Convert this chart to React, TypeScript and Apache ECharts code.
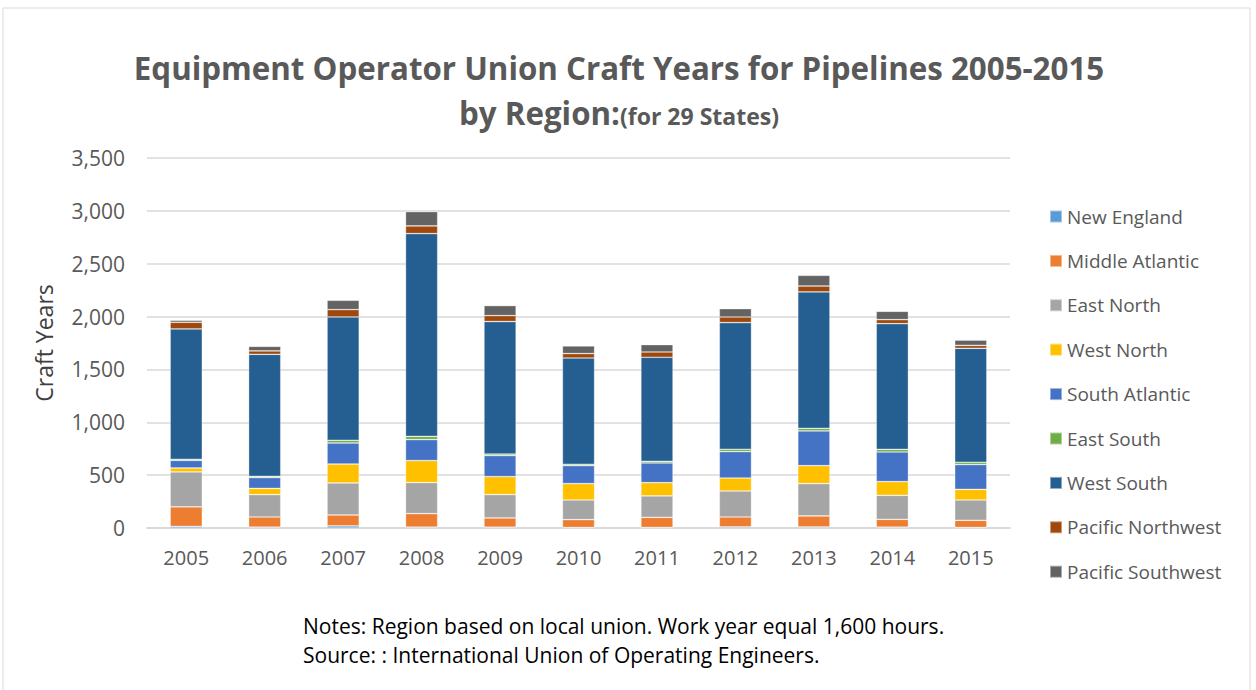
import React, { useEffect, useRef } from "react";
import * as echarts from "echarts";

const years = ["2005", "2006", "2007", "2008", "2009", "2010", "2011", "2012", "2013", "2014", "2015"];
const newEngland = [15, 8, 20, 8, 8, 5, 5, 10, 10, 8, 5];
const middleAtlantic = [185, 96, 103, 128, 87, 74, 96, 94, 104, 74, 68];
const eastNorth = [330, 212, 303, 294, 221, 186, 202, 246, 306, 227, 192];
const westNorth = [38, 59, 179, 208, 170, 155, 126, 123, 170, 130, 101];
const southAtlantic = [72, 102, 199, 198, 199, 170, 186, 250, 328, 280, 234];
const eastSouth = [10, 12, 26, 31, 15, 13, 16, 22, 25, 25, 22];
const westSouth = [1233, 1154, 1166, 1918, 1253, 1005, 984, 1198, 1290, 1189, 1078];
const pacificNorthwest = [63, 32, 70, 72, 56, 42, 50, 53, 56, 38, 28];
const pacificSouthwest = [19, 44, 88, 136, 95, 72, 70, 79, 101, 79, 50];

const seriesNames = [
  "New England",
  "Middle Atlantic",
  "East North",
  "West North",
  "South Atlantic",
  "East South",
  "West South",
  "Pacific Northwest",
  "Pacific Southwest",
];
const seriesData = [
  newEngland,
  middleAtlantic,
  eastNorth,
  westNorth,
  southAtlantic,
  eastSouth,
  westSouth,
  pacificNorthwest,
  pacificSouthwest,
];
const colors = ["#5B9BD5", "#ED7D31", "#A5A5A5", "#FFC000", "#4472C4", "#70AD47", "#255E91", "#9E480E", "#636363"];

const FONT = "'Open Sans', 'Noto Sans', sans-serif";

export default function App() {
  const ref = useRef<HTMLDivElement>(null);
  useEffect(() => {
    if (!ref.current) return;
    const chart = echarts.init(ref.current, null, { renderer: "svg" });
    chart.setOption({
      animation: false,
      backgroundColor: "#ffffff",
      color: colors,
      textStyle: { fontFamily: FONT },
      title: {
        text: "Equipment Operator Union Craft Years for Pipelines 2005-2015\n{b|by Region:}{s|(for 29 States)}",
        left: 614,
        textAlign: "center",
        top: 40,
        textStyle: {
          fontFamily: FONT,
          fontSize: 31.3,
          fontWeight: "bold",
          color: "#595959",
          lineHeight: 45,
          rich: {
            b: { fontFamily: FONT, fontSize: 31.3, fontWeight: "bold", color: "#595959", lineHeight: 45 },
            s: { fontFamily: FONT, fontSize: 23, fontWeight: "bold", color: "#595959", lineHeight: 45, padding: [6, 0, 0, 0] },
          },
        },
      },
      legend: {
        orient: "vertical",
        left: 1049,
        top: 207,
        padding: 0,
        itemWidth: 12,
        itemHeight: 12,
        itemGap: 25.4,
        icon: "rect",
        textStyle: { fontFamily: FONT, fontSize: 19, color: "#595959" },
        data: seriesNames,
      },
      grid: { left: 147, right: 246, top: 158, bottom: 162, containLabel: false },
      xAxis: {
        type: "category",
        data: years,
        axisLine: { lineStyle: { color: "#d9d9d9", width: 2 } },
        axisTick: { show: false },
        axisLabel: { fontFamily: FONT, fontSize: 20, color: "#595959", margin: 19 },
      },
      yAxis: {
        type: "value",
        min: 0,
        max: 3500,
        interval: 500,
        name: "Craft Years",
        nameLocation: "middle",
        nameGap: 92,
        nameTextStyle: { fontFamily: FONT, fontSize: 23, color: "#404040" },
        axisLine: { show: false },
        axisTick: { show: false },
        splitLine: { lineStyle: { color: "#d9d9d9", width: 1.5 } },
        axisLabel: {
          fontFamily: FONT,
          fontSize: 21,
          color: "#595959",
          margin: 22,
          formatter: (v: number) => v.toLocaleString("en-US"),
        },
      },
      series: seriesNames.map((name, i) => ({
        name,
        type: "bar",
        stack: "total",
        barWidth: "41%",
        data: seriesData[i],
        itemStyle: { color: colors[i], borderColor: "rgba(255,255,255,0.45)", borderWidth: 0.7 },
      })),
      graphic: [
        {
          type: "rect",
          shape: { x: 3, y: 8, width: 1247, height: 700 },
          style: { fill: "none", stroke: "#d9d9d9", lineWidth: 1 },
          silent: true,
        },
        {
          type: "text",
          left: 303,
          top: 611,
          style: {
            text: "Notes: Region based on local union. Work year equal 1,600 hours.\nSource: : International Union of Operating Engineers.",
            font: `21px ${FONT}`,
            fill: "#000000",
            lineHeight: 29,
          },
        },
      ],
    });
    return () => chart.dispose();
  }, []);
  return <div ref={ref} style={{ position: "absolute", left: 0, top: 0, width: 1256, height: 690 }} />;
}
